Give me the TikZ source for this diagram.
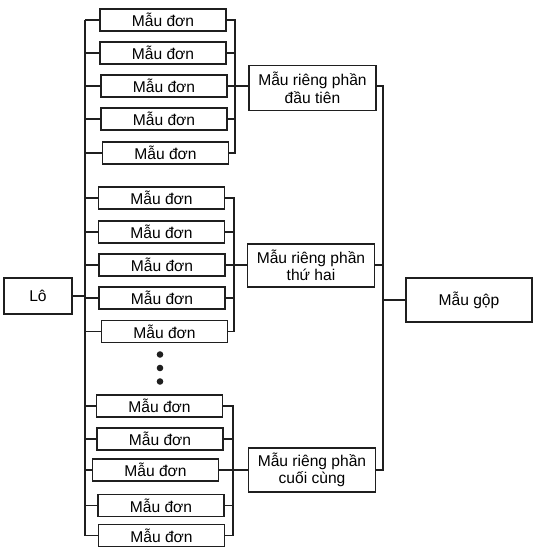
\documentclass[tikz,border=0pt]{standalone}
\usepackage{fontspec}
\setmainfont{Liberation Sans}
\begin{document}
\begin{tikzpicture}[x=1pt,y=-1pt,
  ink/.style={line width=1.6pt,draw=black!88},
  txt/.style={font=\fontsize{15.6}{17.5}\selectfont},
  donbox/.style={ink,txt,minimum width=126pt,minimum height=22pt,inner sep=0pt},
  midbox/.style={ink,txt,minimum width=127pt,minimum height=44pt,inner sep=0pt,align=center},
  bigbox/.style={ink,txt,minimum width=126pt,minimum height=44pt,inner sep=0pt},
  wire/.style={ink}]
\useasboundingbox (0,0) rectangle (554,557);
% left and right buses
\coordinate (lbtop) at (85,20);
\coordinate (lbbot) at (85,535.5);
\coordinate (g1x) at (235,0);
\coordinate (g2x) at (234,0);
\coordinate (g3x) at (233,0);
\coordinate (rx) at (383,0);
% Lo
\node[ink,txt,minimum width=68pt,minimum height=36pt,inner sep=0pt] (lo) at (38,296) {Lô};
% group 1
\node[donbox] (a1) at (163,20) {Mẫu đơn};
\node[donbox] (a2) at (163,53) {Mẫu đơn};
\node[donbox] (a3) at (164,86) {Mẫu đơn};
\node[donbox] (a4) at (164,119) {Mẫu đơn};
\node[donbox] (a5) at (165.5,153) {Mẫu đơn};
% group 2
\node[donbox] (b1) at (161.5,198) {Mẫu đơn};
\node[donbox] (b2) at (161.5,232) {Mẫu đơn};
\node[donbox] (b3) at (162,265) {Mẫu đơn};
\node[donbox] (b4) at (162,298) {Mẫu đơn};
\node[donbox] (b5) at (164.5,331.5) {Mẫu đơn};
% dots
\fill[black!88] (160,354.5) circle (3.3pt);
\fill[black!88] (160,368) circle (3.3pt);
\fill[black!88] (160,381.5) circle (3.3pt);
% group 3
\node[donbox] (c1) at (159.5,406) {Mẫu đơn};
\node[donbox] (c2) at (160,439) {Mẫu đơn};
\node[donbox] (c3) at (155.5,470) {Mẫu đơn};
\node[donbox] (c4) at (161,505.5) {Mẫu đơn};
\node[donbox] (c5) at (161.5,535.5) {Mẫu đơn};
% intermediate boxes
\node[midbox,minimum height=45pt] (m1) at (312.5,88) {Mẫu riêng phần\\đầu tiên};
\node[midbox,minimum height=43pt] (m2) at (311,265.5) {Mẫu riêng phần\\thứ hai};
\node[midbox] (m3) at (312,470) {Mẫu riêng phần\\cuối cùng};
% final
\node[bigbox] (gop) at (469,300) {Mẫu gộp};
% left bus
\draw[wire] (lbtop) -- (lbbot);
\draw[wire] (lo.east) -- (lo.east -| lbtop);
\foreach \n in {a1,a2,a3,a4,a5,b1,b2,b3,b4,b5,c1,c2,c3,c4,c5}
  \draw[wire] (\n.west) -- (\n.west -| lbtop);
% group buses
\draw[wire] (a1.east) -- (a1.east -| g1x) -- (a5.east -| g1x) -- (a5.east);
\foreach \n in {a2,a3,a4} \draw[wire] (\n.east) -- (\n.east -| g1x);
\draw[wire] (a3.east -| g1x) -- (a3.east -| m1.west);
\draw[wire] (b1.east) -- (b1.east -| g2x) -- (b5.east -| g2x) -- (b5.east);
\foreach \n in {b2,b3,b4} \draw[wire] (\n.east) -- (\n.east -| g2x);
\draw[wire] (b3.east -| g2x) -- (b3.east -| m2.west);
\draw[wire] (c1.east) -- (c1.east -| g3x) -- (c5.east -| g3x) -- (c5.east);
\foreach \n in {c2,c3,c4} \draw[wire] (\n.east) -- (\n.east -| g3x);
\draw[wire] (c3.east -| g3x) -- (c3.east -| m3.west);
% right bus
\draw[wire] (m1.east |- a3.east) -- (a3.east -| rx) -- (c3.east -| rx) -- (m3.east |- c3.east);
\draw[wire] (m2.east |- b3.east) -- (b3.east -| rx);
\draw[wire] (gop.west -| rx) -- (gop.west);
\end{tikzpicture}
\end{document}
